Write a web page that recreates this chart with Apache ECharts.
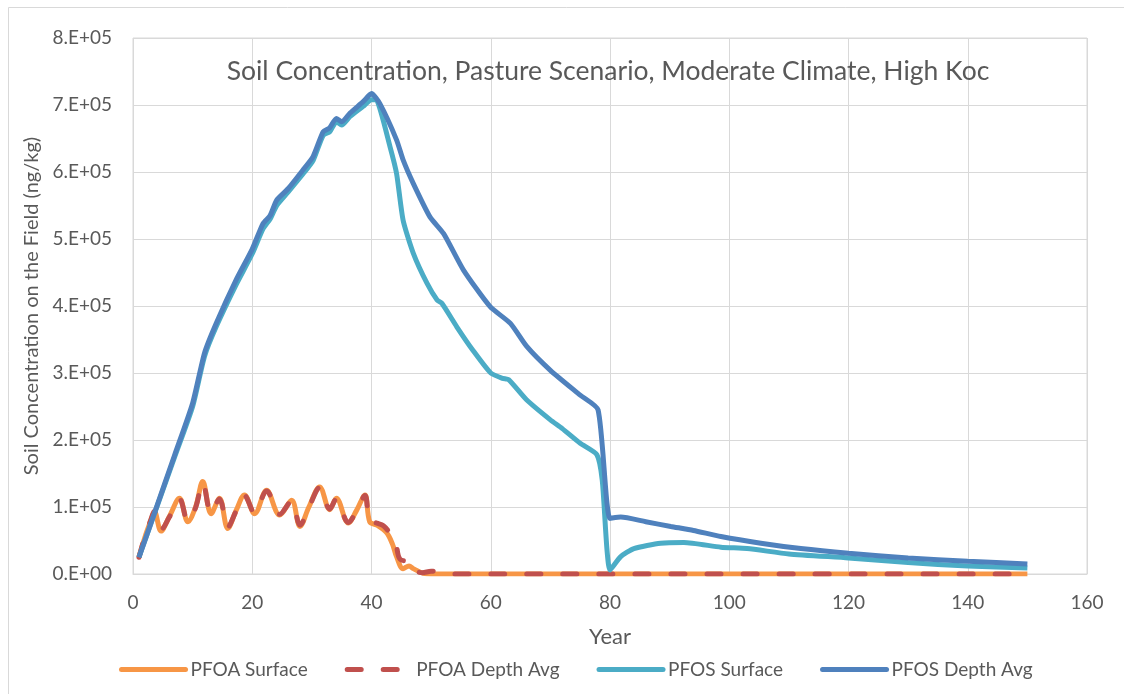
<!DOCTYPE html>
<html>
<head>
<meta charset="utf-8">
<script src="https://cdn.jsdelivr.net/npm/echarts@6/dist/echarts.min.js"></script>
<style>
html,body{margin:0;padding:0;background:#fff;}
#chart{width:1124px;height:694px;}
</style>
</head>
<body>
<div id="chart"></div>
<script>
// Values in thousands of ng/kg
var pfoaSurfaceYears  = [1,2,3,3.6,4.7,6.1,7.8,9.2,10.5,11.7,13.1,14.5,15.9,17.3,18.7,20.4,22.4,24.6,26.6,28,29.5,31.3,33,34.1,36.1,37.5,38.9,39.7,40.9,42.5,43.5,44.2,45.3,46.3,47,48.7,50,150];
var pfoaSurfaceValues = [25,55,80,93,64,86,113,78,100,138,90,113,68,95,118,90,125,88,110,71,100,130,96,113,76,95,118,78,73,62,45,26,8,12,8,1,0,0];

var pfoaDepthYears  = [1,2,3,3.6,4.7,6.1,7.8,9.2,10.5,11.7,13.1,14.5,15.9,17.3,18.7,20.4,22.4,24.6,26.6,28,29.5,31.3,33,34.1,36.1,37.5,38.9,39.7,40.9,42,43.1,44,44.8,46.8,47.5,48.5,50,52,54,150];
var pfoaDepthValues = [25,56,81,94,66,85,112,79,99,136,91,112,70,94,117,91,124,89,109,73,99,129,97,112,77,94,117,80,76,72,61,50,22,18,5,2,4,3,0,0];

var pfosSurfaceYears  = [1,3.6,7,10,12,14,17.3,20,21.8,23,24.1,26,28.5,30.2,31.9,33,34.1,35,36.4,38.6,40,40.9,43.1,44.2,45.3,47,49.3,51,51.8,54.3,57,60,62,63,66,70,72,75,77.8,78.7,80,81.8,84,88.5,92.4,98.6,103,110,120,130,140,150];
var pfosSurfaceValues = [25,90,175,250,325,370,432,478,515,530,550,570,597,617,655,660,675,670,683,698,708,707,638,598,528,479,434,409,404,369,334,300,292,290,260,230,217,195,178,140,6,26,38,46,47,40,38,30,24,17,12,9];

var pfosDepthYears  = [1,3.6,7,10,12,14,17.3,20,21.8,23,24.1,26,28.5,30.2,31.9,33,34.1,35,36.4,38.6,40,41.4,44.2,45.3,47,49.8,52.1,55.4,59.9,63.3,66,70,75,78,80,81.8,86,90.2,94,98.6,105.3,112,120,130,140,150];
var pfosDepthValues = [25,91,178,255,330,375,439,485,523,535,558,575,603,623,660,666,680,675,688,705,717,702,648,618,583,533,508,454,399,374,340,304,267,245,83,85,78,71,65,56,46,38,31,24,19,15];

var yTickLabels = ['0.E+00','1.E+05','2.E+05','3.E+05','4.E+05','5.E+05','6.E+05','7.E+05','8.E+05'];

function pairs(xs, vs){ return xs.map(function(x,i){ return [x, vs[i]*1000]; }); }

var chart = echarts.init(document.getElementById('chart'), null, {renderer:'canvas'});
var FONT = 'Lato';
var txt = '#595959';
chart.setOption({
  animation:false,
  backgroundColor:'#ffffff',
  title:{
    text:'Soil Concentration, Pasture Scenario, Moderate Climate, High Koc',
    left:603, textAlign:'center', top:53,
    textStyle:{fontFamily:FONT, fontSize:26.5, fontWeight:'normal', color:txt}
  },
  graphic:[{type:'rect', shape:{x:8.5,y:7.5,width:1130,height:700}, style:{fill:'none', stroke:'#d9d9d9', lineWidth:1}, silent:true}],
  grid:{left:133, right:37, top:38, bottom:120, show:true, borderColor:'#d9d9d9', borderWidth:1},
  legend:{
    top:655, left:114, itemWidth:64, itemHeight:16, itemGap:37,
    itemStyle:{color:'rgba(0,0,0,0)', borderWidth:0, opacity:0},
    lineStyle:{width:5, cap:'round'},
    textStyle:{fontFamily:FONT, fontSize:19, color:txt},
    data:['PFOA Surface','PFOA Depth Avg','PFOS Surface','PFOS Depth Avg']
  },
  xAxis:{
    type:'value', min:0, max:160, interval:20,
    name:'Year', nameLocation:'middle', nameGap:52,
    nameTextStyle:{fontFamily:FONT, fontSize:22, color:txt},
    axisLine:{show:true, lineStyle:{color:'#d9d9d9'}}, axisTick:{show:false},
    axisLabel:{fontFamily:FONT, fontSize:19, color:txt, margin:19},
    splitLine:{show:true, lineStyle:{color:'#d9d9d9', width:1}}
  },
  yAxis:{
    type:'value', min:0, max:800000, interval:100000,
    name:'Soil Concentration on the Field (ng/kg)', nameLocation:'middle', nameGap:85,
    nameTextStyle:{fontFamily:FONT, fontSize:20, color:txt},
    axisLine:{show:false}, axisTick:{show:false},
    axisLabel:{fontFamily:FONT, fontSize:19, color:txt, margin:21,
      formatter:function(v){ return yTickLabels[Math.round(v/100000)]; }},
    splitLine:{show:true, lineStyle:{color:'#d9d9d9', width:1}}
  },
  series:[
    {name:'PFOA Surface', type:'line', symbol:'none', smooth:0.35, z:2,
     lineStyle:{color:'#f79646', width:5}, itemStyle:{color:'#f79646'},
     data:pairs(pfoaSurfaceYears,pfoaSurfaceValues)},
    {name:'PFOA Depth Avg', type:'line', symbol:'none', smooth:0.35, z:3,
     lineStyle:{color:'#c0504d', width:5, type:[14,22], cap:'round'}, itemStyle:{color:'#c0504d'},
     data:pairs(pfoaDepthYears,pfoaDepthValues)},
    {name:'PFOS Surface', type:'line', symbol:'none', smooth:0.2, z:4,
     lineStyle:{color:'#4bacc6', width:5}, itemStyle:{color:'#4bacc6'},
     data:pairs(pfosSurfaceYears,pfosSurfaceValues)},
    {name:'PFOS Depth Avg', type:'line', symbol:'none', smooth:0.2, z:5,
     lineStyle:{color:'#4f81bd', width:5}, itemStyle:{color:'#4f81bd'},
     data:pairs(pfosDepthYears,pfosDepthValues)}
  ]
});
</script>
</body>
</html>
